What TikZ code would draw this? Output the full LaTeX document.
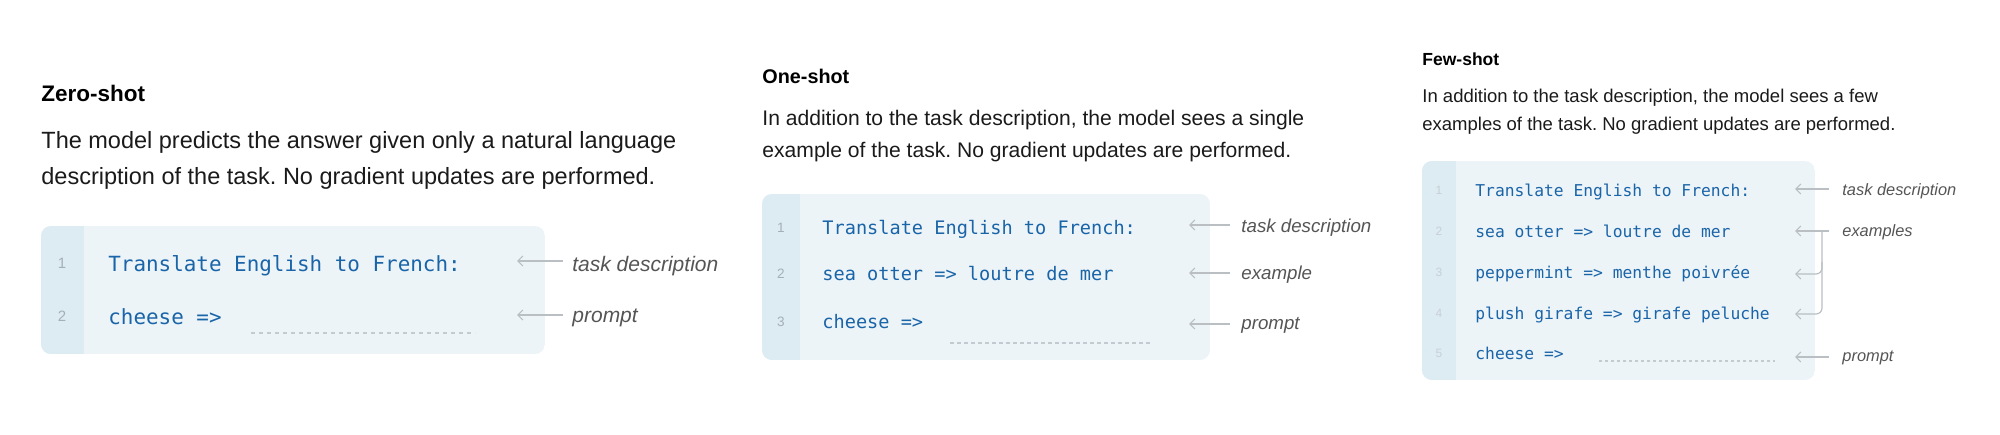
\documentclass[tikz,border=0pt]{standalone}
\usepackage{fontspec}
\setmainfont{Liberation Sans}
\setmonofont{DejaVu Sans Mono}
\usetikzlibrary{arrows.meta}
\frenchspacing
\definecolor{boxbg}{HTML}{ECF4F8}
\definecolor{gutterbg}{HTML}{DDEBF3}
\definecolor{codeblue}{HTML}{1A64A8}
\definecolor{lnumgray}{HTML}{A4B0B8}
\definecolor{arrowgray}{HTML}{B9BFC3}
\definecolor{dotgray}{HTML}{C4CBD0}
\definecolor{lblgray}{HTML}{555555}
\definecolor{txt}{HTML}{1A1A1A}
\tikzset{
 ttl/.style={anchor=base west, inner sep=0pt, text=black, font=\bfseries\fontsize{#1}{#1}\selectfont},
 dsc/.style={anchor=base west, inner sep=0pt, text=txt, font=\fontsize{#1}{#1}\selectfont},
 cod/.style={anchor=base west, inner sep=0pt, text=codeblue, font=\ttfamily\fontsize{#1}{#1}\selectfont},
 lnum/.style={anchor=base, inner sep=0pt, text=lnumgray, font=\fontsize{#1}{#1}\selectfont},
 lbl/.style={anchor=base west, inner sep=0pt, text=lblgray, font=\itshape\fontsize{#1}{#1}\selectfont},
 arr/.style={draw=arrowgray, line width=0.6pt, -{Straight Barb[length=2.5pt,width=5pt]}},
 dots/.style={draw=dotgray, line width=#1*0.5pt, dash pattern=on #1pt off #1pt},
}
\begin{document}
\begin{tikzpicture}[x=0.5pt,y=-0.5pt]
\useasboundingbox (0,0) rectangle (2000,434);
% ---------------- Panel 1: Zero-shot ----------------
\node[ttl=11.25pt] (t1) at (41,101) {Zero-shot};
\node[dsc=11.75pt] (d1a) at (41,148) {The model predicts the answer given only a natural language};
\node[dsc=11.75pt] (d1b) at (41,184) {description of the task. No gradient updates are performed.};
\begin{scope}
\clip[rounded corners=5pt] (41,226) rectangle (545,354);
\fill[boxbg] (41,226) rectangle (545,354);
\fill[gutterbg] (41,226) rectangle (84,354);
\end{scope}
\node[lnum=7.5pt] (n11) at (62,268) {1};
\node[lnum=7.5pt] (n12) at (62,321) {2};
\node[cod=10.45pt] (c11) at (108,271) {Translate English to French:};
\node[cod=10.45pt] (c12) at (108,324) {cheese =>};
\coordinate (u1a) at (251,333);
\coordinate (u1b) at (475,333);
\draw[dots=2] (u1a) -- (u1b);
\node[lbl=10.5pt] (l11) at (572,271) {task description};
\node[lbl=10.5pt] (l12) at (572,322) {prompt};
\coordinate (a11s) at (563,261); \coordinate (a11e) at (517,261);
\coordinate (a12s) at (563,315); \coordinate (a12e) at (517,315);
\draw[arr] (a11s) -- (a11e);
\draw[arr] (a12s) -- (a12e);
% ---------------- Panel 2: One-shot ----------------
\node[ttl=9.9pt] (t2) at (762,83) {One-shot};
\node[dsc=10.55pt] (d2a) at (762,125) {In addition to the task description, the model sees a single};
\node[dsc=10.55pt] (d2b) at (762,157) {example of the task. No gradient updates are performed.};
\begin{scope}
\clip[rounded corners=5pt] (762,194) rectangle (1210,360);
\fill[boxbg] (762,194) rectangle (1210,360);
\fill[gutterbg] (762,194) rectangle (800,360);
\end{scope}
\node[lnum=6.8pt] (n21) at (781,232) {1};
\node[lnum=6.8pt] (n22) at (781,278) {2};
\node[lnum=6.8pt] (n23) at (781,326) {3};
\node[cod=9.3pt] (c21) at (822,234) {Translate English to French:};
\node[cod=9.3pt] (c22) at (822,280) {sea otter => loutre de mer};
\node[cod=9.3pt] (c23) at (822,328) {cheese =>};
\coordinate (u2a) at (950,343);
\coordinate (u2b) at (1151,343);
\draw[dots=1.75] (u2a) -- (u2b);
\node[lbl=9.35pt] (l21) at (1241,232) {task description};
\node[lbl=9.35pt] (l22) at (1241,279) {example};
\node[lbl=9.35pt] (l23) at (1241,329) {prompt};
\coordinate (a21s) at (1230,225); \coordinate (a21e) at (1189,225);
\coordinate (a22s) at (1230,273); \coordinate (a22e) at (1189,273);
\coordinate (a23s) at (1230,324); \coordinate (a23e) at (1189,324);
\draw[arr] (a21s) -- (a21e);
\draw[arr] (a22s) -- (a22e);
\draw[arr] (a23s) -- (a23e);
% ---------------- Panel 3: Few-shot ----------------
\node[ttl=8.75pt] (t3) at (1422,65) {Few-shot};
\node[dsc=9.25pt] (d3a) at (1422,102) {In addition to the task description, the model sees a few};
\node[dsc=9.25pt] (d3b) at (1422,130) {examples of the task. No gradient updates are performed.};
\begin{scope}
\clip[rounded corners=5pt] (1422,161) rectangle (1815,380);
\fill[boxbg] (1422,161) rectangle (1815,380);
\fill[gutterbg] (1422,161) rectangle (1456,380);
\end{scope}
\node[lnum=6pt,text=lnumgray!60] (n31) at (1439,194) {1};
\node[lnum=6pt,text=lnumgray!60] (n32) at (1439,235) {2};
\node[lnum=6pt,text=lnumgray!60] (n33) at (1439,276) {3};
\node[lnum=6pt,text=lnumgray!60] (n34) at (1439,317) {4};
\node[lnum=6pt,text=lnumgray!60] (n35) at (1439,357) {5};
\node[cod=8.15pt] (c31) at (1475,196) {Translate English to French:};
\node[cod=8.15pt] (c32) at (1475,237) {sea otter => loutre de mer};
\node[cod=8.15pt] (c33) at (1475,278) {peppermint => menthe poivrée};
\node[cod=8.15pt] (c34) at (1475,319) {plush girafe => girafe peluche};
\node[cod=8.15pt] (c35) at (1475,359) {cheese =>};
\coordinate (u3a) at (1599,361);
\coordinate (u3b) at (1775,361);
\draw[dots=1.5] (u3a) -- (u3b);
\node[lbl=8.2pt] (l31) at (1842,195) {task description};
\node[lbl=8.2pt] (l32) at (1842,236) {examples};
\node[lbl=8.2pt] (l35) at (1842,361) {prompt};
\coordinate (a31s) at (1829,189); \coordinate (a31e) at (1795,189);
\coordinate (a32s) at (1829,231); \coordinate (a32e) at (1795,231);
\coordinate (br) at (1822,231);
\coordinate (br3) at (1822,262); \coordinate (a33e) at (1795,274);
\coordinate (a34e) at (1795,314);
\coordinate (a35s) at (1829,357); \coordinate (a35e) at (1795,357);
\draw[arr] (a31s) -- (a31e);
\draw[arr] (a32s) -- (a32e);
\draw[arr, rounded corners=3pt] (br) |- (a34e);
\draw[arr, rounded corners=3pt] (br3) |- (a33e);
\draw[arr] (a35s) -- (a35e);
\end{tikzpicture}
\end{document}
